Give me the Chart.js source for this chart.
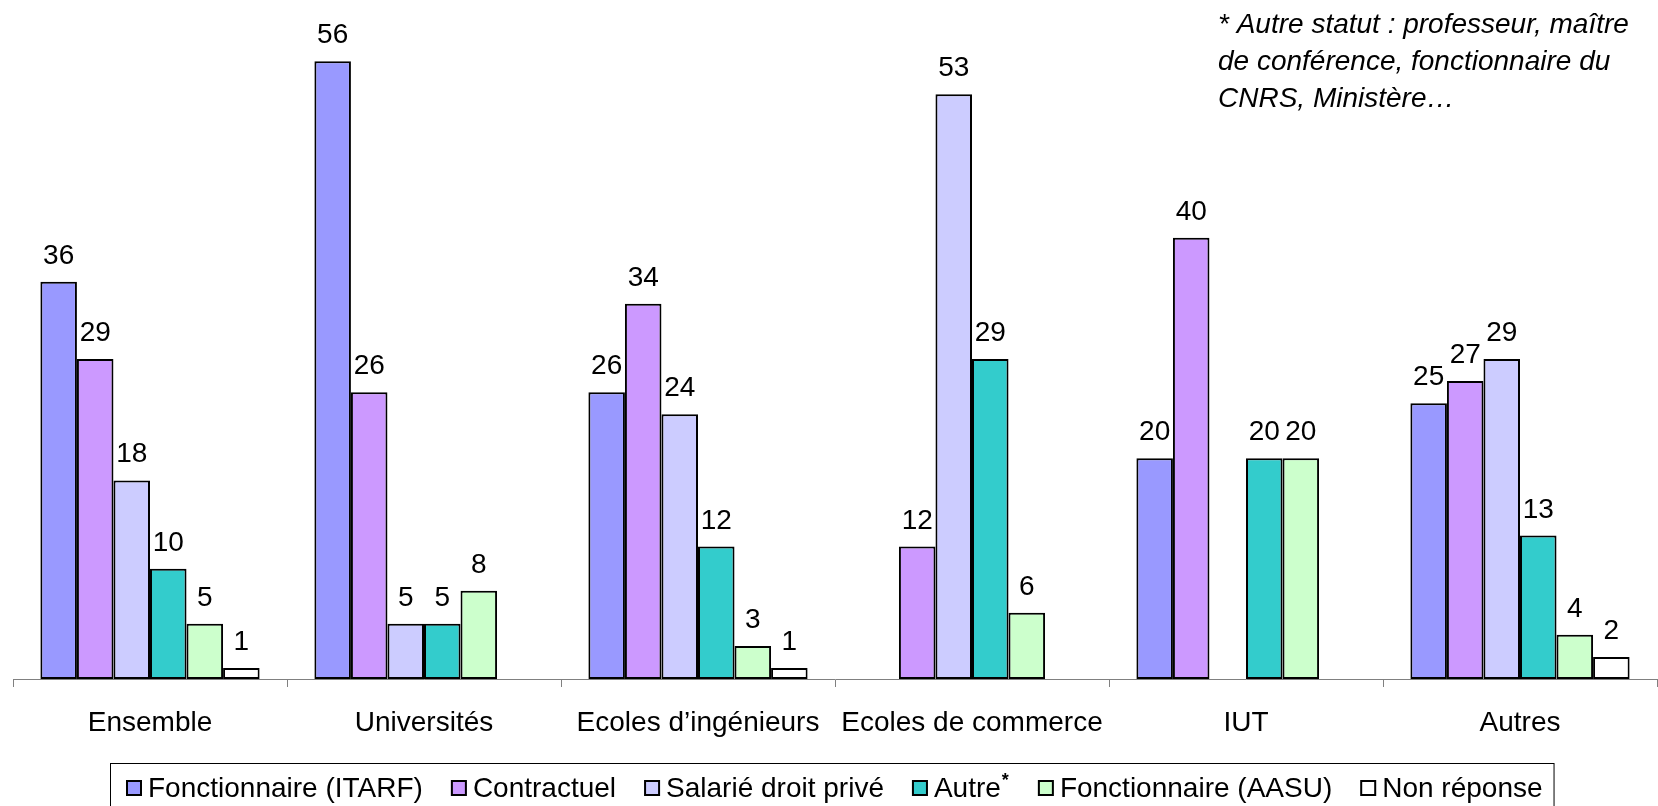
<!DOCTYPE html>
<html lang="fr">
  <head>
    <meta charset="UTF-8" />
    <title>Statut des personnels</title>
    <script src="https://cdn.jsdelivr.net/npm/chart.js"></script>
    <style>
      html, body { margin: 0; padding: 0; background: #fff; }
      #wrap { width: 1658px; height: 806px; position: relative; }
    </style>
  </head>
  <body>
    <div id="wrap"><canvas id="barChart"></canvas></div>

    <script>
      // Categories and series (null = no bar)
      const categories = ["Ensemble", "Universités", "Ecoles d’ingénieurs", "Ecoles de commerce", "IUT", "Autres"];
      const itarf = [36, 56, 26, null, 20, 25];
      const contractuel = [29, 26, 34, 12, 40, 27];
      const salarie = [18, 5, 24, 53, null, 29];
      const autre = [10, 5, 12, 29, 20, 13];
      const aasu = [5, 8, 3, 6, 20, 4];
      const nonReponse = [1, null, 1, null, null, 2];

      const seriesNames = ["Fonctionnaire (ITARF)", "Contractuel", "Salarié droit privé", "Autre", "Fonctionnaire (AASU)", "Non réponse"];
      const seriesMarks = ["", "", "", "*", "", ""];
      const seriesColors = ["#9999FF", "#CC99FF", "#CCCCFF", "#33CCCC", "#CCFFCC", "#FFFFFF"];
      const seriesValues = [itarf, contractuel, salarie, autre, aasu, nonReponse];

      const noteLines = ["* Autre statut : professeur, maître", "de conférence, fonctionnaire du", "CNRS, Ministère…"];

      const FONT = "'Liberation Sans', Arial, Helvetica, sans-serif";

      // value labels above bars
      const valueLabels = {
        id: "valueLabels",
        afterDatasetsDraw(chart) {
          const ctx = chart.ctx;
          ctx.save();
          ctx.font = "28px " + FONT;
          ctx.fillStyle = "#000";
          ctx.textAlign = "center";
          ctx.textBaseline = "alphabetic";
          chart.data.datasets.forEach((ds, i) => {
            chart.getDatasetMeta(i).data.forEach((bar, j) => {
              const v = ds.data[j];
              if (v === null || v === undefined) return;
              ctx.fillText(String(v), bar.x, bar.y - 18);
            });
          });
          ctx.restore();
        },
      };

      // boxed legend at the bottom
      const boxedLegend = {
        id: "boxedLegend",
        afterDraw(chart) {
          const ctx = chart.ctx;
          const size = 28;
          const sq = 16;
          const gapText = 6;
          const gapItem = 28;
          ctx.save();
          const items = chart.data.datasets.map((ds, i) => {
            ctx.font = size + "px " + FONT;
            const w = ctx.measureText(ds.label).width;
            const mark = seriesMarks[i];
            ctx.font = "bold 18px " + FONT;
            const mw = mark ? ctx.measureText(mark).width + 2 : 0;
            return { label: ds.label, color: ds.backgroundColor, mark, w: sq + gapText + w + mw, tw: w };
          });
          const total = items.reduce((s, it) => s + it.w, 0) + gapItem * (items.length - 1);
          let x = 126;
          const top = chart.height - 43;
          const baseline = top + 34;

          ctx.strokeStyle = "#000";
          ctx.lineWidth = 1;
          ctx.strokeRect(x - 15.5, top + 0.5, total + 27, 60);

          items.forEach((it) => {
            ctx.fillStyle = it.color;
            ctx.fillRect(x, baseline - sq - 1, sq, sq);
            ctx.strokeStyle = "#000";
            ctx.lineWidth = 2;
            ctx.strokeRect(x + 1, baseline - sq, sq - 2, sq - 2);
            ctx.fillStyle = "#000";
            ctx.textAlign = "left";
            ctx.textBaseline = "alphabetic";
            ctx.font = size + "px " + FONT;
            ctx.fillText(it.label, x + sq + gapText, baseline);
            if (it.mark) {
              ctx.font = "bold 18px " + FONT;
              ctx.fillText(it.mark, x + sq + gapText + it.tw + 1, baseline - 11);
            }
            x += it.w + gapItem;
          });
          ctx.restore();
        },
      };

      // footnote in the top right corner
      const footNote = {
        id: "footNote",
        afterDraw(chart) {
          const ctx = chart.ctx;
          ctx.save();
          ctx.font = "italic 28px " + FONT;
          ctx.fillStyle = "#000";
          ctx.textAlign = "left";
          ctx.textBaseline = "alphabetic";
          noteLines.forEach((line, i) => ctx.fillText(line, 1218, 33 + i * 37));
          ctx.restore();
        },
      };

      const ctx1 = document.getElementById("barChart").getContext("2d");
      new Chart(ctx1, {
        type: "bar",
        data: {
          labels: categories,
          datasets: seriesValues.map((vals, i) => ({
            label: seriesNames[i],
            data: vals,
            backgroundColor: seriesColors[i],
            borderColor: "#000",
            borderWidth: 2,
            borderSkipped: false,
            categoryPercentage: 0.8,
            barPercentage: 1.0,
          })),
        },
        options: {
          responsive: true,
          maintainAspectRatio: false,
          animation: false,
          devicePixelRatio: 1,
          layout: { padding: { top: 17, left: 13, right: 1, bottom: 61 } },
          plugins: {
            legend: { display: false },
            tooltip: { enabled: false },
          },
          scales: {
            y: { display: false, min: 0, max: 60 },
            x: {
              afterFit(scale) {
                scale.height = 66;
              },
              grid: { drawOnChartArea: false, drawTicks: true, tickLength: 8, color: "#808080", offset: true },
              border: { display: true, color: "#808080", width: 1 },
              ticks: { color: "#000", font: { size: 28, family: FONT }, padding: 19, maxRotation: 0, autoSkip: false },
            },
          },
        },
        plugins: [valueLabels, boxedLegend, footNote],
      });
    </script>
  </body>
</html>
